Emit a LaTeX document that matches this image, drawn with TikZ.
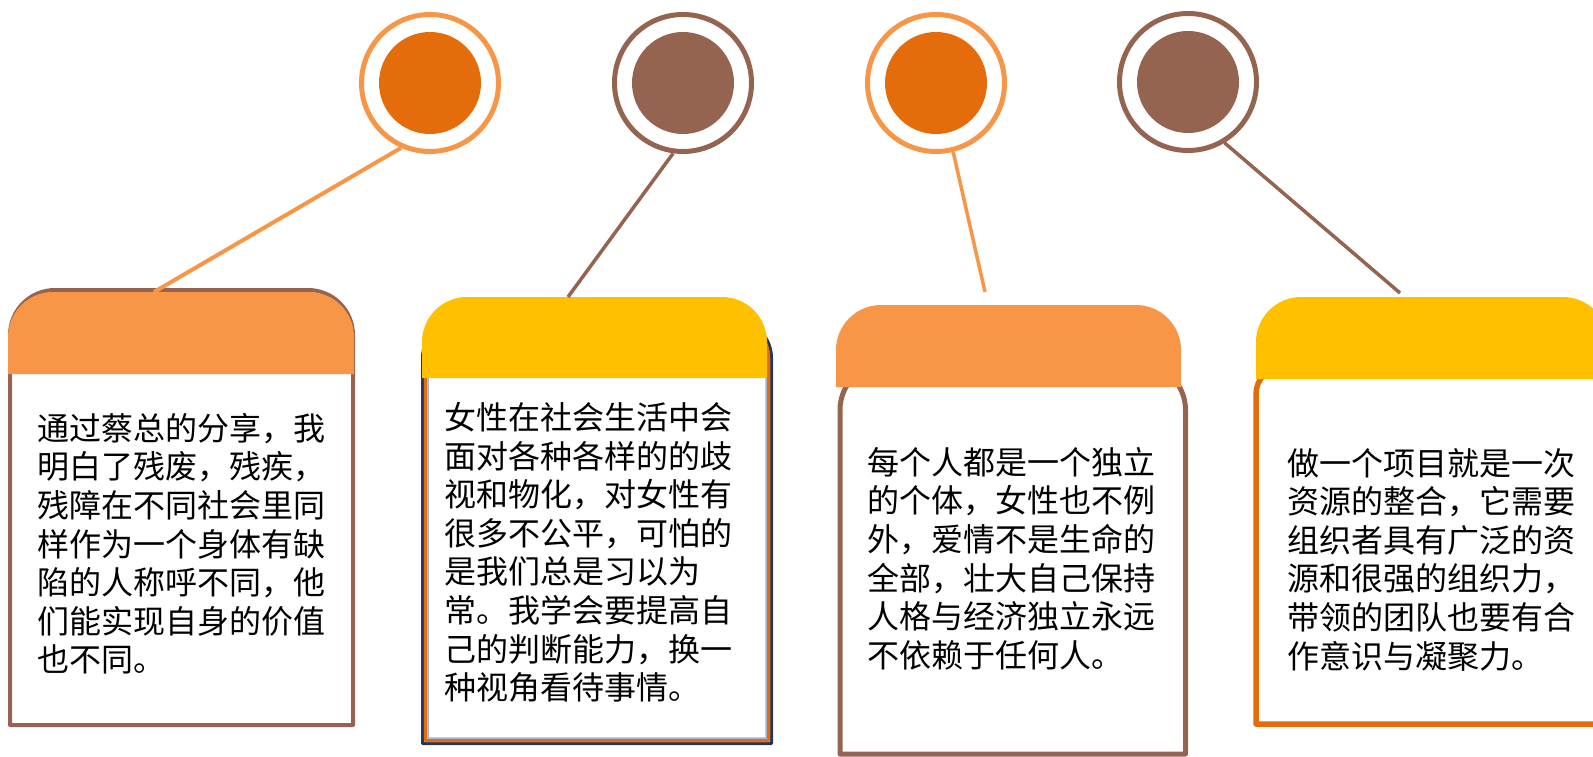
\documentclass[tikz,border=0pt]{standalone}
\usepackage{fontspec}
\newfontfamily\cjkfont{Noto Sans CJK SC}
\definecolor{lorange}{HTML}{F79646}
\definecolor{dorange}{HTML}{E46C0A}
\definecolor{brownc}{HTML}{946450}
\definecolor{yellowc}{HTML}{FFC000}
\definecolor{navyc}{HTML}{1F3864}
\definecolor{lblue}{HTML}{9DB3DA}
\newcommand\toprnd[6]{\path[#1] (#2,#5) -- (#2,#4+#6) arc[start angle=180,end angle=270,radius=#6] -- (#3-#6,#4) arc[start angle=270,end angle=360,radius=#6] -- (#3,#5) -- cycle;}
\begin{document}
\begin{tikzpicture}[x=1pt,y=-1pt,
  ring/.style={circle,draw=#1,line width=5pt,minimum size=137pt,inner sep=0pt,fill=white},
  dot/.style={circle,fill=#1,minimum size=102pt,inner sep=0pt},
  conn/.style={draw=#1,line width=3.5pt},
  txt/.style={font=\cjkfont\fontsize{32}{38.6}\selectfont,align=left,inner sep=0pt,anchor=north west,text=black},
  outl/.style={draw=#1,line join=round}]
\useasboundingbox (0,0) rectangle (1593,757);
\clip (0,0) rectangle (1593,757);
% card outlines
\toprnd{outl=brownc,line width=4pt,fill=white}{10}{353}{290}{725}{45}
\toprnd{outl=navyc,line width=3pt,fill=white}{422.5}{771.5}{319.5}{743.5}{38.5}
\toprnd{outl=dorange,line width=3.5pt}{425.5}{768.5}{322.5}{740.5}{35.5}
\toprnd{outl=lblue,line width=1.5pt}{428}{766}{325}{738}{33}
\toprnd{outl=brownc,line width=5pt,fill=white}{840}{1185.5}{363}{754}{47}
\toprnd{outl=dorange,line width=5.5pt,fill=white}{1256}{1640}{367}{724}{27}
% headers
\toprnd{fill=lorange}{8}{354}{292}{374}{45}
\toprnd{fill=yellowc}{422}{767}{297}{378}{45}
\toprnd{fill=lorange}{836}{1181}{305}{387}{45}
\toprnd{fill=yellowc}{1256}{1608}{297}{379}{45}
% circles
\node[ring=lorange] (c1) at (430,83) {};
\node[dot=dorange] (d1) at (c1.center) {};
\node[ring=brownc] (c2) at (683,83) {};
\node[dot=brownc] (d2) at (c2.center) {};
\node[ring=lorange] (c3) at (936,83) {};
\node[dot=dorange] (d3) at (c3.center) {};
\node[ring=brownc] (c4) at (1188,82) {};
\node[dot=brownc] (d4) at (c4.center) {};
% connectors
\coordinate (e1) at (154,292);
\coordinate (e2) at (568,297);
\coordinate (e3) at (985,292);
\coordinate (e4) at (1400,293);
\draw[conn=lorange,line width=4pt] (c1.246.5) -- (e1);
\draw[conn=brownc] (c2.262.3) -- (e2);
\draw[conn=lorange] (c3.284) -- (e3);
\draw[conn=brownc] (c4.301) -- (e4);
% texts
\node[txt] (t1) at (37,413) {通过蔡总的分享，我\\明白了残废，残疾，\\残障在不同社会里同\\样作为一个身体有缺\\陷的人称呼不同，他\\们能实现自身的价值\\也不同。};
\node[txt] (t2) at (444,402) {女性在社会生活中会\\面对各种各样的的歧\\视和物化，对女性有\\很多不公平，可怕的\\是我们总是习以为\\常。我学会要提高自\\己的判断能力，换一\\种视角看待事情。};
\node[txt] (t3) at (867,447) {每个人都是一个独立\\的个体，女性也不例\\外，爱情不是生命的\\全部，壮大自己保持\\人格与经济独立永远\\不依赖于任何人。};
\node[txt] (t4) at (1287,448) {做一个项目就是一次\\资源的整合，它需要\\组织者具有广泛的资\\源和很强的组织力，\\带领的团队也要有合\\作意识与凝聚力。};
\end{tikzpicture}
\end{document}
